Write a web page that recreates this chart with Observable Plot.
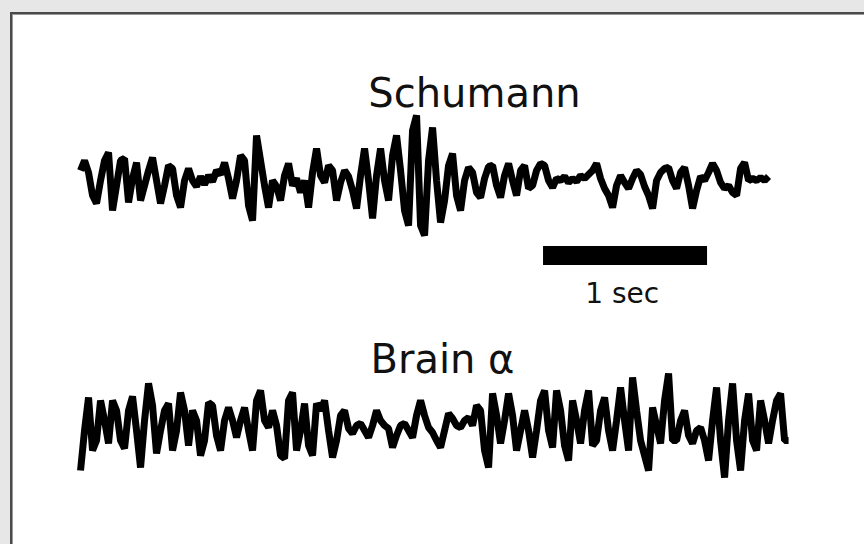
<!DOCTYPE html>
<html>
<head>
<meta charset="utf-8">
<script src="https://cdn.jsdelivr.net/npm/d3@7"></script>
<script src="https://cdn.jsdelivr.net/npm/@observablehq/plot@0.6"></script>
<style>
  html, body { margin: 0; padding: 0; }
  body { background: #e7e7e7; width: 864px; height: 544px; position: relative; overflow: hidden; }
  #frame { position: absolute; left: 10px; top: 12px; right: 0; bottom: 0; background: #ffffff;
           border-top: 2px solid #4a4a4a; border-left: 2px solid #4a4a4a;
           box-shadow: inset 1px 1px 0 #9a9a9a; }
  #chart { position: absolute; left: 0; top: 0; }
</style>
</head>
<body>
<div id="frame"></div>
<div id="chart"></div>
<script>
// Sample rate of both traces (samples per second)
const sampleRate = 41;

// Schumann resonance trace (arbitrary amplitude units, positive = up)
const schumann = [
  10, 20, 8, -15, -23, 0, 20, 28, -30, -5,
  20, 22, -22, 2, 18, -20, -5, 10, 23, 0,
  -23, -5, 15, 12, -15, -27, 0, 12, 0, -6,
  4, -4, 5, -1, 10, 6, 18, 2, -18, 0,
  25, 20, -25, -40, 45, 20, -5, -27, 0, -6,
  -20, 5, 17, -5, 2, -12, 0, -27, 8, 32,
  5, -2, 15, 10, -20, -2, 10, 4, -10, -28,
  5, 32, 0, -38, 5, 32, 0, -20, 25, 45,
  10, -30, -45, 50, 65, -45, -55, 20, 53, 0,
  -42, -20, 15, 27, -15, -30, 0, 13, 8, -12,
  -17, 2, 14, 15, -5, -17, 5, 17, 0, -15,
  10, 15, -8, -5, 10, 17, 15, 0, -7, 2,
  0, 4, -2, 2, -1, 5, 2, 6, 10, 17,
  2, -8, -15, -27, -5, 5, -2, -8, 2, 10,
  6, -6, -15, -28, 0, 8, 12, 13, 0, -8,
  8, 13, -5, -28, -10, 4, 0, 8, 17, 10,
  -2, -8, -5, -12, -15, 12, 18, 0, 2, 0,
  3, 0, 4
];

// Brain alpha EEG trace (arbitrary amplitude units, positive = up)
const brainAlpha = [
  -48, -8, 25, -28, -18, 22, 2, -21, 22, 12,
  -18, -26, 12, 26, -8, -45, 2, 39, 17, -31,
  -8, 12, 19, -28, -8, 30, 12, -23, 12, 2,
  -33, -18, 20, 17, -13, -28, 2, 15, 2, -15,
  2, 15, -8, -28, 22, 32, 2, -5, 12, -3,
  -33, -36, 22, 30, -28, -8, 19, -23, -33, 19,
  12, 22, -8, -35, -18, 7, 12, -6, -11, -3,
  -1, -8, -15, -3, 12, 2, -3, -6, -25, -13,
  -3, -1, -8, -15, 7, 22, 7, -5, -10, -18,
  -25, -8, 9, 4, -3, -5, 2, 5, -3, 17,
  12, -28, -45, 29, 7, -21, 2, 29, 7, -28,
  -8, 12, -8, -35, -8, 22, 32, -8, -25, 32,
  12, -23, -38, 22, 2, -21, 12, 32, -23, -18,
  12, 25, -8, -28, 2, 35, 2, -28, 45, 12,
  -18, -33, -48, 15, -3, -21, 22, 49, -18, -18,
  2, 12, -13, -21, -8, -5, -18, -38, 2, 35,
  -18, -55, 2, 39, -18, -48, 2, 29, -18, -28,
  22, 2, -21, 2, 22, 29, -18, -18
];

// Vertical offsets of the two traces on the shared amplitude axis
const traceOffsets = {Schumann: 242, "Brain α": 0};

// Labels
const traceLabels = ["Schumann", "Brain α"];
const labelTimes = [2.402, 2.207];
const labelLevels = [316, 50];

// Time scale bar: 1 second
const scaleBarStart = 2.823;
const scaleBarSeconds = 1;
const scaleBarLevels = [157, 176];
const scaleBarLabel = "1 sec";
const scaleBarLabelLevel = 120;

const rows = [];
schumann.forEach((v, i) => rows.push({trace: "Schumann", t: i / sampleRate, v: v + traceOffsets.Schumann}));
brainAlpha.forEach((v, i) => rows.push({trace: "Brain α", t: i / sampleRate, v: v + traceOffsets["Brain α"]}));

const labelRows = traceLabels.map((name, i) => ({name, t: labelTimes[i], v: labelLevels[i]}));

const font = "DejaVu Sans, Lato, sans-serif";

const chart = Plot.plot({
  width: 864,
  height: 544,
  margin: 0,
  style: {background: "transparent", fontFamily: font},
  x: {domain: [-0.488, 4.78], axis: null},
  y: {domain: [-122, 422], axis: null},
  marks: [
    Plot.line(rows, {x: "t", y: "v", z: "trace", stroke: "#000", strokeWidth: 7, strokeLinejoin: "bevel", strokeLinecap: "butt"}),
    Plot.rect([{x1: scaleBarStart, x2: scaleBarStart + scaleBarSeconds, y1: scaleBarLevels[0], y2: scaleBarLevels[1]}],
      {x1: "x1", x2: "x2", y1: "y1", y2: "y2", fill: "#000"}),
    Plot.text(labelRows, {x: "t", y: "v", text: "name", fontSize: 40, lineAnchor: "bottom", fill: "#111"}),
    Plot.text([{t: scaleBarStart + scaleBarSeconds / 2 - 0.02, v: scaleBarLabelLevel, s: scaleBarLabel}],
      {x: "t", y: "v", text: "s", fontSize: 28, lineAnchor: "bottom", fill: "#111"})
  ]
});
document.getElementById("chart").append(chart);
</script>
</body>
</html>
